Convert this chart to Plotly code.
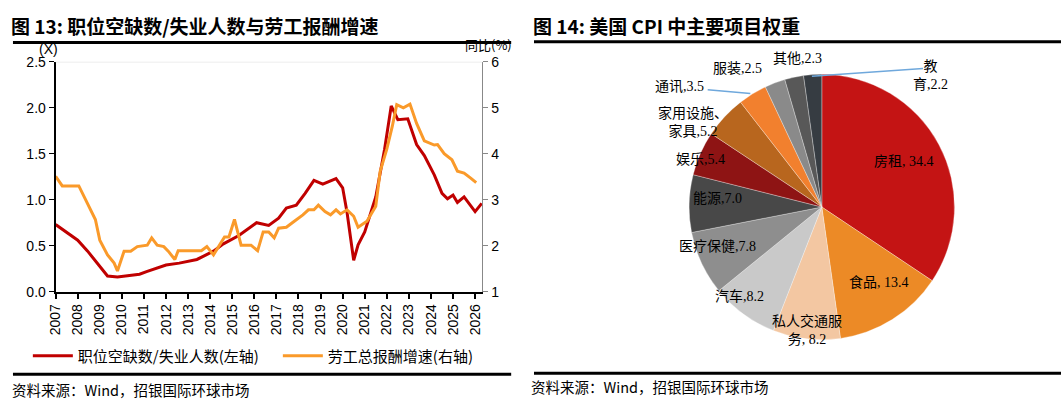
import plotly.graph_objects as go

W, H = 1061, 415

# ---------------- Left chart data ----------------
vu_years = [2007.0, 2008.0, 2008.45, 2008.9, 2009.2, 2009.35, 2009.8, 2010.25, 2010.8, 2011.15,
            2012.0, 2012.6, 2013.4, 2014.15, 2014.6, 2015.3, 2016.1, 2016.65, 2017.1, 2017.45,
            2017.9, 2018.3, 2018.7, 2019.1, 2019.7, 2020.0, 2020.2, 2020.5, 2020.7, 2021.0,
            2021.5, 2021.9, 2022.2, 2022.5, 2022.95, 2023.35, 2023.7, 2024.15, 2024.5, 2024.75,
            2025.0, 2025.2, 2025.5, 2026.0, 2026.3]
vu_ratio = [0.73, 0.56, 0.44, 0.30, 0.22, 0.17, 0.16, 0.17, 0.19, 0.22,
            0.29, 0.31, 0.35, 0.44, 0.52, 0.61, 0.75, 0.72, 0.80, 0.91,
            0.94, 1.07, 1.21, 1.17, 1.23, 1.13, 0.86, 0.34, 0.51, 0.65,
            1.03, 1.55, 2.02, 1.87, 1.88, 1.60, 1.48, 1.27, 1.07, 1.01,
            1.05, 0.97, 1.03, 0.87, 0.96]

comp_years = [2007.0, 2007.3, 2008.05, 2008.45, 2008.8, 2009.0, 2009.35, 2009.65, 2009.8, 2010.1,
              2010.4, 2010.7, 2011.15, 2011.35, 2011.6, 2011.9, 2012.1, 2012.4, 2012.55, 2013.6,
              2013.85, 2014.15, 2014.4, 2014.65, 2014.85, 2015.1, 2015.4, 2015.85, 2016.15, 2016.4,
              2016.65, 2016.9, 2017.1, 2017.45, 2017.75, 2018.2, 2018.45, 2018.7, 2018.9, 2019.2,
              2019.45, 2019.7, 2019.9, 2020.2, 2020.5, 2020.7, 2021.1, 2021.5, 2021.7, 2022.0,
              2022.25, 2022.45, 2022.75, 2023.05, 2023.35, 2023.7, 2024.15, 2024.3, 2024.6, 2024.95,
              2025.2, 2025.5, 2025.8, 2026.05]
comp_growth = [3.51, 3.30, 3.30, 2.92, 2.57, 2.12, 1.80, 1.62, 1.45, 1.88,
               1.88, 1.98, 2.01, 2.17, 2.01, 1.98, 1.88, 1.70, 1.89, 1.89,
               1.98, 1.80, 2.01, 2.19, 2.19, 2.57, 2.01, 2.01, 1.89, 2.30,
               2.30, 2.17, 2.38, 2.40, 2.51, 2.67, 2.78, 2.78, 2.88, 2.74,
               2.67, 2.78, 2.69, 2.78, 2.64, 2.40, 2.53, 2.86, 3.62, 4.10,
               4.60, 5.07, 5.00, 5.08, 4.66, 4.28, 4.19, 4.20, 4.00, 3.87,
               3.62, 3.58, 3.47, 3.37]

year_ticks = list(range(2007, 2027))
left_ticks = [0.0, 0.5, 1.0, 1.5, 2.0, 2.5]
right_ticks = [1, 2, 3, 4, 5, 6]

# ---------------- Pie data ----------------
cpi_items = ["房租", "食品", "私人交通服务", "汽车", "医疗保健", "能源", "娱乐",
             "家用设施、家具", "通讯", "服装", "其他", "教育"]
cpi_weights = [34.4, 13.4, 8.2, 8.2, 7.8, 7.0, 5.4, 5.2, 3.5, 2.5, 2.3, 2.2]
cpi_labels = ["房租, 34.4", "食品, 13.4", "私人交通服<br>务, 8.2", "汽车,8.2", "医疗保健,7.8",
              "能源,7.0", "娱乐,5.4", "家用设施、<br>家具,5.2", "通讯,3.5", "服装,2.5",
              "其他,2.3", "教<br>育,2.2"]
cpi_colors = ["#C41414", "#EC8A26", "#F3C7A2", "#C9C9C9", "#8E8E8E", "#484848",
              "#8E1414", "#B8661E", "#F2802E", "#8A8A8A", "#585858", "#363C42"]

# ---------------- style ----------------
RED = "#C00000"
ORANGE = "#FA9A2A"
SANS = "Liberation Sans, Arial, Noto Sans CJK SC"
CJK = "Noto Sans CJK SC"
SERIF = "Liberation Serif, Noto Sans CJK SC"


def px(x):
    return x / W


def py(y):
    return 1 - y / H


fig = go.Figure()

fig.add_trace(go.Scatter(x=vu_years, y=vu_ratio, mode="lines", name="职位空缺数/失业人数(左轴)",
                         line=dict(color=RED, width=3), xaxis="x", yaxis="y"))
fig.add_trace(go.Scatter(x=comp_years, y=comp_growth, mode="lines", name="劳工总报酬增速(右轴)",
                         line=dict(color=ORANGE, width=3), xaxis="x", yaxis="y2"))

fig.add_trace(go.Pie(labels=cpi_items, values=cpi_weights, sort=False, direction="clockwise",
                     rotation=0, textinfo="none", hoverinfo="label+value",
                     marker=dict(colors=cpi_colors, line=dict(color="rgba(255,255,255,0.5)", width=0.6)),
                     domain=dict(x=[px(682), px(958)], y=[py(345), py(69)]),
                     showlegend=False))

x_dom = [px(48), px(478)]
y_dom = [py(295), py(56)]

fig.update_layout(
    width=W, height=H,
    margin=dict(l=0, r=0, t=0, b=0),
    paper_bgcolor="white", plot_bgcolor="white",
    font=dict(family=SANS, size=14, color="black"),
    xaxis=dict(domain=x_dom, range=[2007, 2026.33], tickmode="array", tickvals=year_ticks,
               ticktext=[str(y) for y in year_ticks], tickangle=-90,
               showline=True, linecolor="black", linewidth=2, ticks="outside", ticklen=5,
               tickcolor="black", tickwidth=1.5, showgrid=False, zeroline=False,
               tickfont=dict(size=14, family=SANS)),
    yaxis=dict(domain=y_dom, range=[0, 2.5], tickvals=left_ticks, tickformat=".1f",
               showline=True, linecolor="black", linewidth=2, ticks="outside", ticklen=5,
               tickcolor="black", showgrid=False, zeroline=False, tickfont=dict(size=14, family=SANS)),
    yaxis2=dict(overlaying="y", side="right", anchor="x", range=[1, 6], tickvals=right_ticks,
                showline=True, linecolor="#888888", linewidth=1.2, ticks="outside", ticklen=5,
                tickcolor="#888888", showgrid=False, zeroline=False, tickfont=dict(size=14, family=SANS)),
    legend=dict(orientation="h", x=px(20), y=py(362), xanchor="left", yanchor="middle",
                font=dict(family=CJK, size=15), bgcolor="rgba(0,0,0,0)", itemwidth=40,
                entrywidth=195, entrywidthmode="pixels", tracegroupgap=0),
)

shapes = [
    # top grid line at 2.5
    dict(type="line", xref="x domain", yref="y", x0=0, x1=1, y0=2.5, y1=2.5,
         line=dict(color="#D9D9D9", width=1)),
    # header / footer rules
    dict(type="line", xref="paper", yref="paper", x0=px(5), x1=px(507), y0=py(36), y1=py(36),
         line=dict(color="black", width=3)),
    dict(type="line", xref="paper", yref="paper", x0=px(5), x1=px(507), y0=py(381), y1=py(381),
         line=dict(color="black", width=3)),
    dict(type="line", xref="paper", yref="paper", x0=px(530), x1=px(1061), y0=py(35), y1=py(35),
         line=dict(color="black", width=3)),
    dict(type="line", xref="paper", yref="paper", x0=px(530), x1=px(1061), y0=py(380), y1=py(380),
         line=dict(color="black", width=3)),
    # pie leader lines
    dict(type="line", xref="paper", yref="paper", x0=px(705), x1=px(748), y0=py(85), y1=py(89),
         line=dict(color="#6FA8DC", width=1.5)),
    dict(type="line", xref="paper", yref="paper", x0=px(810), x1=px(922), y0=py(71), y1=py(63),
         line=dict(color="#6FA8DC", width=1.5)),
]
fig.update_layout(shapes=shapes)

ann = []


def add_text(text, x, y, size=14, family=CJK, xanchor="left", bold=False, color="black"):
    ann.append(dict(text=(f"<b>{text}</b>" if bold else text), x=px(x), y=py(y), xref="paper",
                    yref="paper", xanchor=xanchor, yanchor="middle", showarrow=False,
                    font=dict(size=size, family=family, color=color)))


add_text("图 13: 职位空缺数/失业人数与劳工报酬增速", 1, 18, size=19, bold=True)
add_text("图 14: 美国 CPI 中主要项目权重", 527, 18, size=19, bold=True)
add_text("资料来源：Wind，招银国际环球市场", 2, 397, size=14.5)
add_text("资料来源：Wind，招银国际环球市场", 525, 394, size=14.5)
add_text("(X)", 41, 43, size=14, family=SANS, xanchor="center")
add_text("同比(%)", 510, 38, size=13, xanchor="right")

# pie label positions (pixel centres)
label_pos = [(903, 160), (878, 285), (805, 335), (737, 300), (715, 248), (715, 198),
             (698, 158), (690, 119), (677, 82), (735, 63), (795, 53), (930, 70)]
for txt, (lx, ly) in zip(cpi_labels, label_pos):
    ann.append(dict(text=txt, x=px(lx), y=py(ly), xref="paper", yref="paper", xanchor="center",
                    yanchor="middle", showarrow=False, align="center",
                    font=dict(size=14, family=SERIF, color="black")))

fig.update_layout(annotations=ann)

fig.write_html("out.html")
